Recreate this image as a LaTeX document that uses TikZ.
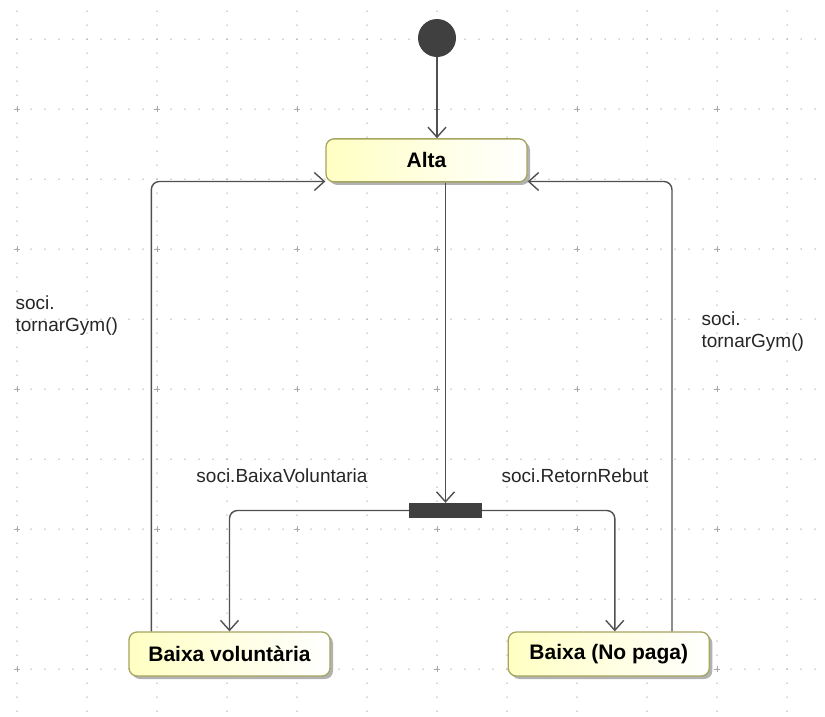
\documentclass[tikz,border=0pt]{standalone}
\usepackage{fontspec}
\setmainfont{Liberation Sans}
\usetikzlibrary{arrows.meta, positioning, shadows}
\definecolor{edgegray}{RGB}{80,80,80}
\definecolor{stateborder}{RGB}{165,165,95}
\definecolor{stateyellow}{RGB}{255,255,195}
\definecolor{dotgray}{RGB}{170,170,170}
\tikzset{
    >={Straight Barb[length=10pt,width=18pt]}, % open v-shaped heads
    statebox/.style={draw=stateborder, line width=1.3pt, rounded corners=8pt,
        left color=stateyellow, right color=white,
        minimum width=201pt, minimum height=43pt,
        font=\bfseries\fontsize{21}{25}\selectfont,
        drop shadow={shadow xshift=3pt, shadow yshift=-3pt, fill=black, opacity=0.3}}, % the states
    trans/.style={->, draw=edgegray, line width=1.4pt, rounded corners=8pt}, % transitions
    guard/.style={font=\fontsize{19}{22}\selectfont, text=black!85}, % transition labels
}
\begin{document}
\begin{tikzpicture}[x=1pt, y=-1pt]
\useasboundingbox (0,0) rectangle (825,716);
% dotted background grid
\foreach \gy in {39,109,...,669}
    \foreach \gx in {17,31,...,815}
        \fill[dotgray] (\gx,\gy) circle (0.75pt);
\foreach \gx in {17,87,...,787}
    \foreach \gy in {11,25,...,711}
        \fill[dotgray] (\gx,\gy) circle (0.75pt);
\foreach \gx in {17,157,...,717}
    \foreach \gy in {109,249,...,669}
        \draw[dotgray, line width=0.9pt] (\gx-3,\gy) -- (\gx+3,\gy) (\gx,\gy-3) -- (\gx,\gy+3);

\node[circle, fill=black!75, minimum size=38pt, inner sep=0pt] (init) at (437,38) {};
\node[statebox, below=81pt of init, xshift=-10.5pt] (alta) {Alta};
\node[fill=black!75, minimum width=73pt, minimum height=15pt, inner sep=0pt] (fork) at (445.5,510.5) {};
\node[statebox, minimum height=44pt] (volunt) at (229.5,654) {Baixa voluntària};
\node[statebox, minimum height=44pt, right=177pt of volunt] (nopaga) {Baixa (No paga)};

\draw[trans] (init) -- (init |- alta.north);
\draw[trans] (fork.north |- alta.south) -- (fork.north);
\draw[trans] (fork.west) -| (volunt.north);
\draw[trans] (fork.east) -| ([xshift=6pt]nopaga.north);
\draw[trans] ([xshift=23pt]volunt.north west) |- ([yshift=1pt]alta.south west);
\draw[trans] ([xshift=-38pt]nopaga.north east) |- ([yshift=1pt]alta.south east);

\node[guard] (lblvol) at (282,476) {soci.BaixaVoluntaria};
\node[guard] (lblret) at (575,476) {soci.RetornRebut};
\node[guard, align=left, anchor=north west] (lblleft) at (12,292) {soci.\\tornarGym()};
\node[guard, align=left, anchor=north west] (lblright) at (698,308) {soci.\\tornarGym()};
\end{tikzpicture}
\end{document}
